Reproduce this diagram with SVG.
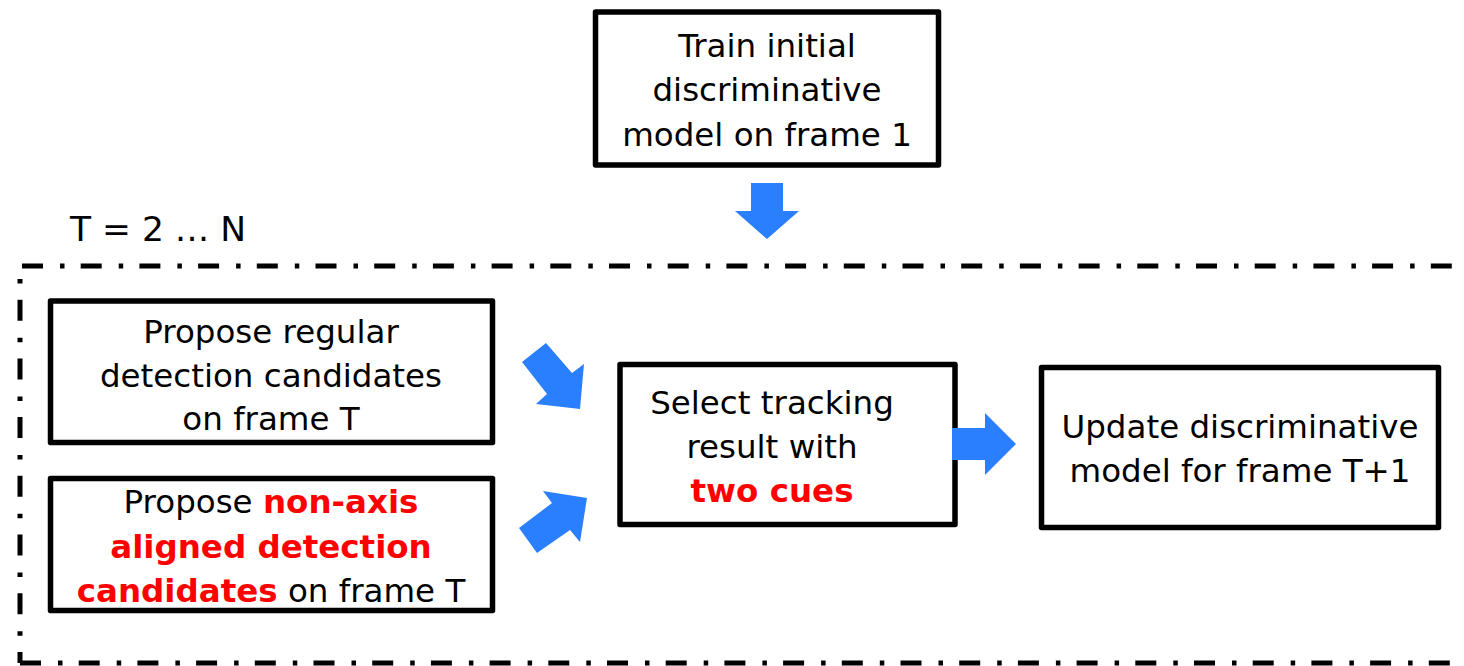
<svg xmlns="http://www.w3.org/2000/svg" width="1464" height="666" viewBox="0 0 1464 666">
<style>
.box{fill:#fff;stroke:#000;stroke-width:5.5;stroke-linejoin:round}
.t{font-family:"DejaVu Sans",Verdana,sans-serif;font-size:32.5px;fill:#000;text-anchor:middle}
.r{font-weight:bold;fill:#ff0000}
.loop{fill:none;stroke:#000;stroke-width:5;stroke-dasharray:21 17 4.5 16.2}
.arr{fill:#2a7fff}
</style>
<rect width="1464" height="666" fill="#fff"/>
<g id="loop">
<path class="loop" d="M22,266 H1470"/>
<path class="loop" d="M20,266 V663" stroke-dashoffset="25"/>
<path class="loop" d="M20,663 H1470"/>
<text x="70" y="241" class="t" style="text-anchor:start;font-size:34.5px">T = 2 … N</text>
</g>
<g id="train">
<rect class="box" x="595.5" y="12" width="343" height="153"/>
<text class="t" x="767" y="57">Train initial</text>
<text class="t" x="767" y="101">discriminative</text>
<text class="t" x="767" y="146">model on frame 1</text>
</g>
<g id="regular">
<rect class="box" x="50.5" y="301" width="442" height="141.5"/>
<text class="t" x="271" y="343">Propose regular</text>
<text class="t" x="271" y="387">detection candidates</text>
<text class="t" x="271" y="430">on frame T</text>
</g>
<g id="nonaxis">
<rect class="box" x="50.5" y="478.5" width="442" height="132"/>
<text class="t" x="271" y="513">Propose <tspan class="r">non-axis</tspan></text>
<text class="t r" x="271" y="558">aligned detection</text>
<text class="t" x="271" y="602"><tspan class="r">candidates</tspan> on frame T</text>
</g>
<g id="select">
<rect class="box" x="620" y="364.5" width="335" height="160"/>
<text class="t" x="772" y="414">Select tracking</text>
<text class="t" x="772" y="458">result with</text>
<text class="t r" x="772" y="502">two cues</text>
</g>
<g id="update">
<rect class="box" x="1041.5" y="367.5" width="397" height="160"/>
<text class="t" x="1240" y="438">Update discriminative</text>
<text class="t" x="1240" y="482">model for frame T+1</text>
</g>
<g id="connectors">
<polygon class="arr" points="751,183 783,183 783,211 799,211 767,239 735,211 751,211"/>
<polygon class="arr" points="952,428 985,428 985,413 1016,444 985,475 985,460 952,460"/>
<polygon class="arr" points="522,362 546,343 572,373 584,364 580,409 536,404 547,394"/>
<polygon class="arr" points="519,528 552,503 543,491 587,498 580,542 570,530 537,553"/>
</g>
</svg>
